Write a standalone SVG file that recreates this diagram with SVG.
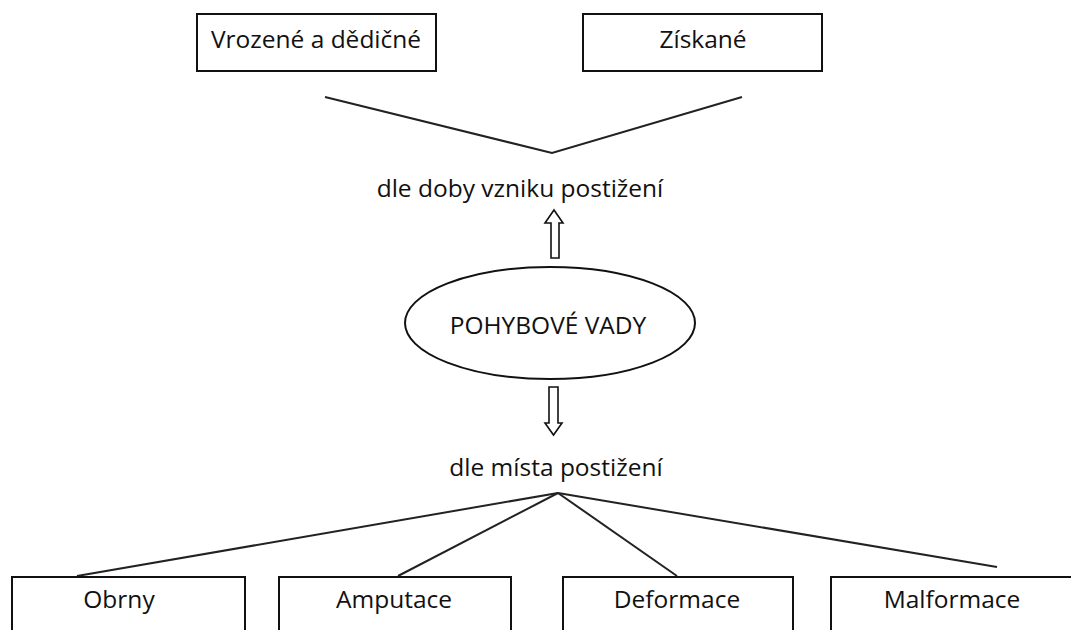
<svg xmlns="http://www.w3.org/2000/svg" width="1071" height="630" viewBox="0 0 1071 630">
<style>
.box{fill:#fff;stroke:#111;stroke-width:2}
.lbl{font-family:"Open Sans","Liberation Sans",sans-serif;font-size:24.5px;fill:#111;text-anchor:middle}
.ln{fill:none;stroke:#222;stroke-width:2}
.arr{fill:#fff;stroke:#111;stroke-width:1.6;stroke-linejoin:miter}
</style>
<rect width="1071" height="630" fill="#fff"/>
<g id="connectors">
<polyline class="ln" points="325,97 552,153 742,97"/>
<line class="ln" x1="558" y1="493" x2="77" y2="576"/>
<line class="ln" x1="558" y1="493" x2="398" y2="576"/>
<line class="ln" x1="558" y1="493" x2="677" y2="576"/>
<line class="ln" x1="558" y1="493" x2="997" y2="567"/>
<path class="arr" d="M554,210 L563,223 L559,223 L559,258 L551,258 L551,223 L545,223 Z"/>
<path class="arr" d="M549,387 L558,387 L558,423 L562,423 L553.5,435 L545,423 L549,423 Z"/>
</g>
<g id="n-vrozene">
<rect class="box" x="197" y="14" width="239" height="57"/>
<text class="lbl" x="316" y="48">Vrozené a dědičné</text>
</g>
<g id="n-ziskane">
<rect class="box" x="583" y="14" width="239" height="57"/>
<text class="lbl" x="703" y="48">Získané</text>
</g>
<g id="n-doba">
<text class="lbl" x="520" y="197">dle doby vzniku postižení</text>
</g>
<g id="n-pohybove">
<ellipse class="box" cx="550" cy="323" rx="145" ry="56"/>
<text class="lbl" x="548" y="334">POHYBOVÉ VADY</text>
</g>
<g id="n-misto">
<text class="lbl" x="556" y="476">dle místa postižení</text>
</g>
<g id="n-obrny">
<rect class="box" x="12" y="577" width="233" height="70"/>
<text class="lbl" x="119" y="608">Obrny</text>
</g>
<g id="n-amputace">
<rect class="box" x="279" y="577" width="232" height="70"/>
<text class="lbl" x="394" y="608">Amputace</text>
</g>
<g id="n-deformace">
<rect class="box" x="563" y="577" width="230" height="70"/>
<text class="lbl" x="677" y="608">Deformace</text>
</g>
<g id="n-malformace">
<rect class="box" x="831" y="577" width="260" height="70"/>
<text class="lbl" x="952" y="608">Malformace</text>
</g>
</svg>
